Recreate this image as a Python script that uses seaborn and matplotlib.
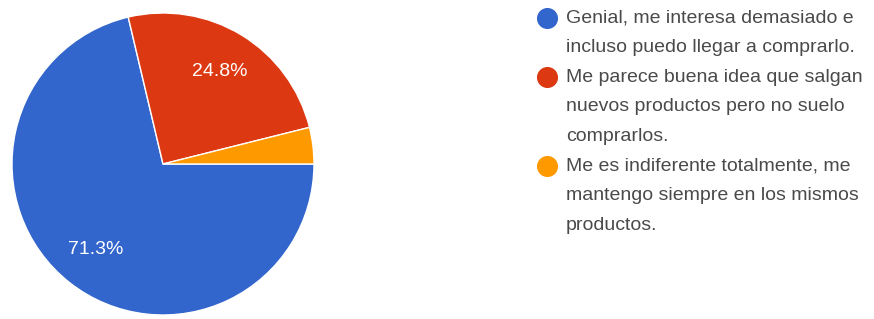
import matplotlib
matplotlib.use("Agg")
import matplotlib.pyplot as plt
import seaborn as sns

# Respuestas de la encuesta
labels = [
    "Genial, me interesa demasiado e\nincluso puedo llegar a comprarlo.",
    "Me parece buena idea que salgan\nnuevos productos pero no suelo\ncomprarlos.",
    "Me es indiferente totalmente, me\nmantengo siempre en los mismos\nproductos.",
]
percentages = [71.3, 24.8, 3.9]
colors = ["#3366cc", "#dc3912", "#ff9900"]

sns.set_theme(style="white")
plt.rcParams['font.family'] = ['Liberation Sans', 'DejaVu Sans']

W, H = 874, 319
fig = plt.figure(figsize=(W / 100, H / 100), dpi=100)

# Pie: centro (163,164), radio 151 px
cx, cy, r = 163, 164, 151
ax = fig.add_axes([(cx - r) / W, (H - cy - r) / H, 2 * r / W, 2 * r / H])
wedges, texts, autotexts = ax.pie(
    percentages,
    colors=colors,
    startangle=0,
    counterclock=False,
    autopct=lambda p: f"{p:.1f}%" if p > 5 else "",
    pctdistance=0.72,
    wedgeprops={'edgecolor': 'white', 'linewidth': 1},
    textprops={'color': 'white', 'fontsize': 14},
)
ax.set_xlim(-1, 1)
ax.set_ylim(-1, 1)
ax.set_aspect('auto')
ax.axis('off')

# Leyenda manual en coordenadas de pixel
lax = fig.add_axes([0, 0, 1, 1])
lax.set_xlim(0, W)
lax.set_ylim(H, 0)
lax.axis('off')
line_h = 29.6
y = 18
for lab, col in zip(labels, colors):
    lax.scatter([547], [y], s=200, color=col, zorder=3)
    for i, line in enumerate(lab.split("\n")):
        lax.text(566, y + i * line_h, line, fontsize=14, color="#4a4a4a",
                 va='center', ha='left')
    y += line_h * (lab.count("\n") + 1)

fig.savefig("out.png", dpi=100)
